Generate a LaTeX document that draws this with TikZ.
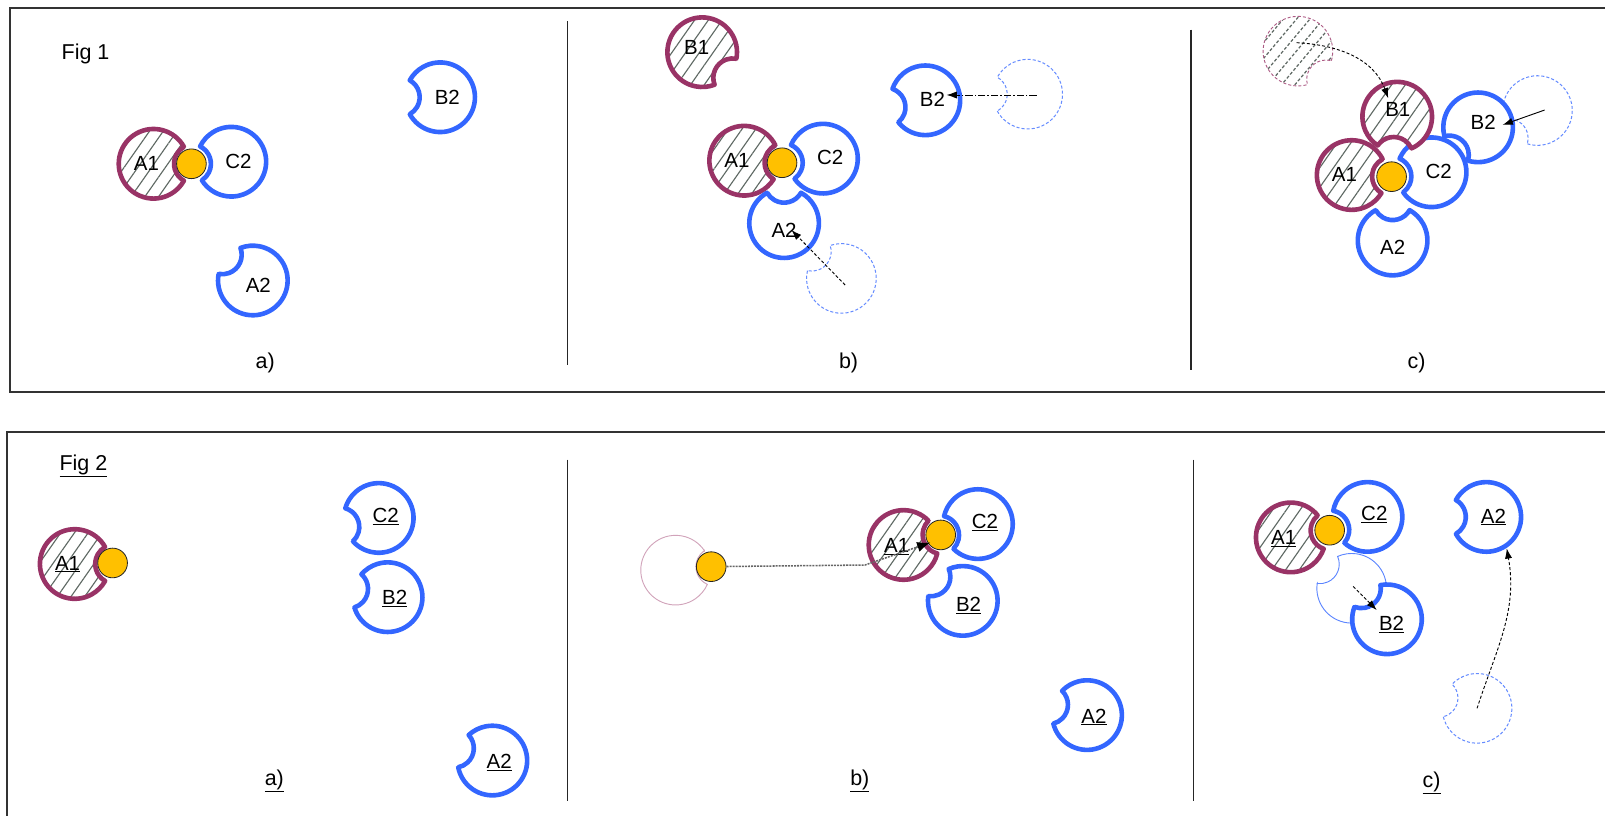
\documentclass[tikz,border=0pt]{standalone}
\usepackage{fontspec}
\setmainfont{Liberation Sans}
\usetikzlibrary{arrows.meta,patterns.meta}

\definecolor{plum}{RGB}{153,51,102}
\definecolor{siteblue}{RGB}{51,102,255}
\definecolor{gold}{RGB}{255,192,0}
\definecolor{hatchgray}{RGB}{95,105,100}

% disc with a round bite: [style]{name}{x}{y}{direction of the bite}
\newcommand{\bindsite}[5][]{%
  \coordinate (#2) at (#3,#4);
  \draw[#1] (#2) ++(#5+29.15:34) arc[start angle=#5+29.15, end angle=#5+330.85, radius=34]
    arc[start angle=#5+240.67, end angle=#5+119.33, radius=19] -- cycle;}
% the same with its name, pushed a little away from the bite
\newcommand{\site}[6][]{%
  \bindsite[#1]{#2}{#3}{#4}{#5}
  \path (#2) ++(#5+180:7) node[lbl] (#2-t) {#6};}

\begin{document}
\begin{tikzpicture}[x=1pt,y=1pt]
    \tikzstyle{every node}+=[inner sep=0pt]
    \tikzstyle{lbl}=[font=\fontsize{20}{24}\selectfont]
    \tikzstyle{caption}=[font=\fontsize{21}{25}\selectfont]
    \tikzstyle{frame}=[line width=1.5pt, black!80]
    \tikzstyle{divider}=[line width=1.5pt, black!85]
    \tikzstyle{bluecup}=[draw=siteblue, line width=4.5pt, line join=round, fill=white]
    \tikzstyle{redcup}=[draw=plum, line width=4.5pt, line join=round, preaction={fill=white},
        pattern={Lines[angle=55,distance=11pt,line width=1.1pt]}, pattern color=hatchgray]
    \tikzstyle{oldblue}=[draw=siteblue!75, line width=1pt, densely dashed]
    \tikzstyle{oldred}=[draw=plum!80, line width=0.9pt, densely dashed,
        pattern={Lines[angle=50,distance=10pt,line width=1.2pt]}, pattern color=hatchgray]
    \tikzstyle{faintred}=[draw=plum!45, line width=0.9pt]
    \tikzstyle{faintblue}=[draw=siteblue!80, line width=0.9pt]
    \tikzstyle{ball}=[circle, minimum size=29pt, fill=gold, draw=black!85, line width=0.8pt]
    \tikzstyle{mover}=[-{Latex[length=10pt,width=7pt]}, line width=0.9pt, black]
    \useasboundingbox (0,0) rectangle (1568,-797);

    % frames and dividers
    \draw[frame] (10,-8) rectangle (1600,-383);
    \draw[frame] (7,-422) rectangle (1600,-830);
    \draw[divider] (554.6,-21) -- (554.6,-357);
    \draw[divider] (1163.6,-29) -- (1163.6,-361);
    \draw[divider] (554.6,-449) -- (554.6,-783);
    \draw[divider] (1165.8,-449) -- (1165.8,-783);
    \node[caption, anchor=west] (fig1) at (60,-53) {Fig 1};
    \node[caption, anchor=west] (fig2) at (58,-455) {\underline{Fig 2}};

    % Fig 1 a)
    \site[redcup]{1a-A1}{150}{-160}{0}{A1}
    \site[bluecup]{1a-C2}{226}{-158}{183}{C2}
    \site[bluecup]{1a-B2}{430}{-95}{180}{B2}
    \site[bluecup]{1a-A2}{247}{-274}{140}{A2}
    \node[ball] (1a-k) at (187,-160) {};
    \node[caption] (cap1a) at (259,-355) {a)};

    % Fig 1 b)
    \bindsite[oldblue]{1b-gA2}{822}{-272}{138}
    \bindsite[oldblue]{1b-gB2}{1004}{-92}{180}
    \site[redcup]{1b-B1}{686}{-51}{-40}{B1}
    \site[redcup]{1b-A1}{727}{-157}{-3}{A1}
    \site[bluecup]{1b-C2}{804}{-155}{186}{C2}
    \site[bluecup]{1b-A2}{766}{-218}{90}{A2}
    \site[bluecup]{1b-B2}{904}{-98}{190}{B2}
    \node[ball] (1b-k) at (764,-159) {};
    \coordinate (1b-B2-from) at (1012.6,-92.8);
    \coordinate (1b-B2-to) at (924.7,-92.8);
    \coordinate (1b-A2-from) at (825.6,-278.4);
    \coordinate (1b-A2-to) at (773.2,-224.7);
    \draw[mover, dash pattern=on 7pt off 2pt on 1.5pt off 2pt] (1b-B2-from) -- (1b-B2-to);
    \draw[mover, densely dashed] (1b-A2-from) -- (1b-A2-to);
    \node[caption] (cap1b) at (829,-355) {b)};

    % Fig 1 c)
    \bindsite[oldred]{1c-gB1}{1268}{-50}{-45}
    \bindsite[oldblue]{1c-gB2}{1502}{-108}{224}
    \site[redcup]{1c-A1}{1320.5}{-171}{-2}{A1}
    \site[bluecup]{1c-C2}{1398.6}{-168.3}{186}{C2}
    \site[redcup]{1c-B1}{1365}{-114}{265}{B1}
    \site[bluecup]{1c-A2}{1360.5}{-235}{90}{A2}
    \site[bluecup]{1c-B2}{1444}{-124.4}{224}{B2}
    \node[ball] (1c-k) at (1359.5,-172.6) {};
    \coordinate (1c-B1-from) at (1266.7,-41.7);
    \coordinate (1c-B1-to) at (1356.2,-96);
    \coordinate (1c-B2-from) at (1509,-107.5);
    \coordinate (1c-B2-to) at (1468,-122);
    \draw[mover, densely dashed] (1c-B1-from) to[out=-3, in=110] (1c-B1-to);
    \draw[mover] (1c-B2-from) -- (1c-B2-to);
    \node[caption] (cap1c) at (1384,-355) {c)};

    % Fig 2 a)
    \site[redcup]{2a-A1}{73}{-551}{0}{\underline{A1}}
    \site[bluecup]{2a-C2}{370}{-506}{193}{\underline{C2}}
    \site[bluecup]{2a-B2}{378.7}{-583.4}{168}{\underline{B2}}
    \site[bluecup]{2a-A2}{481}{-743}{162}{\underline{A2}}
    \node[ball] (2a-k) at (110,-550) {};
    \node[caption] (cap2a) at (268,-763) {\underline{a)}};

    % Fig 2 b)
    \bindsite[faintred]{2b-gA1}{660}{-557}{5}
    \node[ball] (2b-gk) at (694.8,-553.6) {};
    \site[redcup]{2b-A1}{882.7}{-532.4}{15}{\underline{A1}}
    \site[bluecup]{2b-C2}{955.4}{-512}{196}{\underline{C2}}
    \site[bluecup]{2b-B2}{940.6}{-587}{143}{\underline{B2}}
    \site[bluecup]{2b-A2}{1062}{-698.6}{165}{\underline{A2}}
    \node[ball] (2b-k) at (919,-522.6) {};
    \coordinate (2b-bend) at (845,-552);
    \coordinate (2b-to) at (909,-530);
    \draw[-{Latex[length=13pt,width=10pt,black]}, black!60, line width=1.5pt, dash pattern=on 2pt off 1pt]
        (2b-gk) -- (2b-bend) -- (2b-to);
    \node[caption] (cap2b) at (840,-763) {\underline{b)}};

    % Fig 2 c)
    \bindsite[faintblue]{2c-gB2}{1320.5}{-574.7}{143}
    \bindsite[oldblue]{2c-gA2}{1443}{-692}{165}
    \site[redcup]{2c-A1}{1261}{-525}{10}{\underline{A1}}
    \site[bluecup]{2c-C2}{1336}{-505}{199}{\underline{C2}}
    \site[bluecup]{2c-B2}{1355}{-605}{130}{\underline{B2}}
    \site[bluecup]{2c-A2}{1452}{-505}{180}{\underline{A2}}
    \node[ball] (2c-k) at (1299,-518) {};
    \coordinate (2c-B2-from) at (1322,-573);
    \coordinate (2c-B2-to) at (1345,-596);
    \coordinate (2c-A2-to) at (1472,-535.7);
    \draw[mover, densely dashed] (2c-B2-from) -- (2c-B2-to);
    \draw[mover, densely dashed] (2c-gA2) to[out=72, in=-80] (2c-A2-to);
    \node[caption] (cap2c) at (1398.6,-765) {\underline{c)}};
\end{tikzpicture}
\end{document}
